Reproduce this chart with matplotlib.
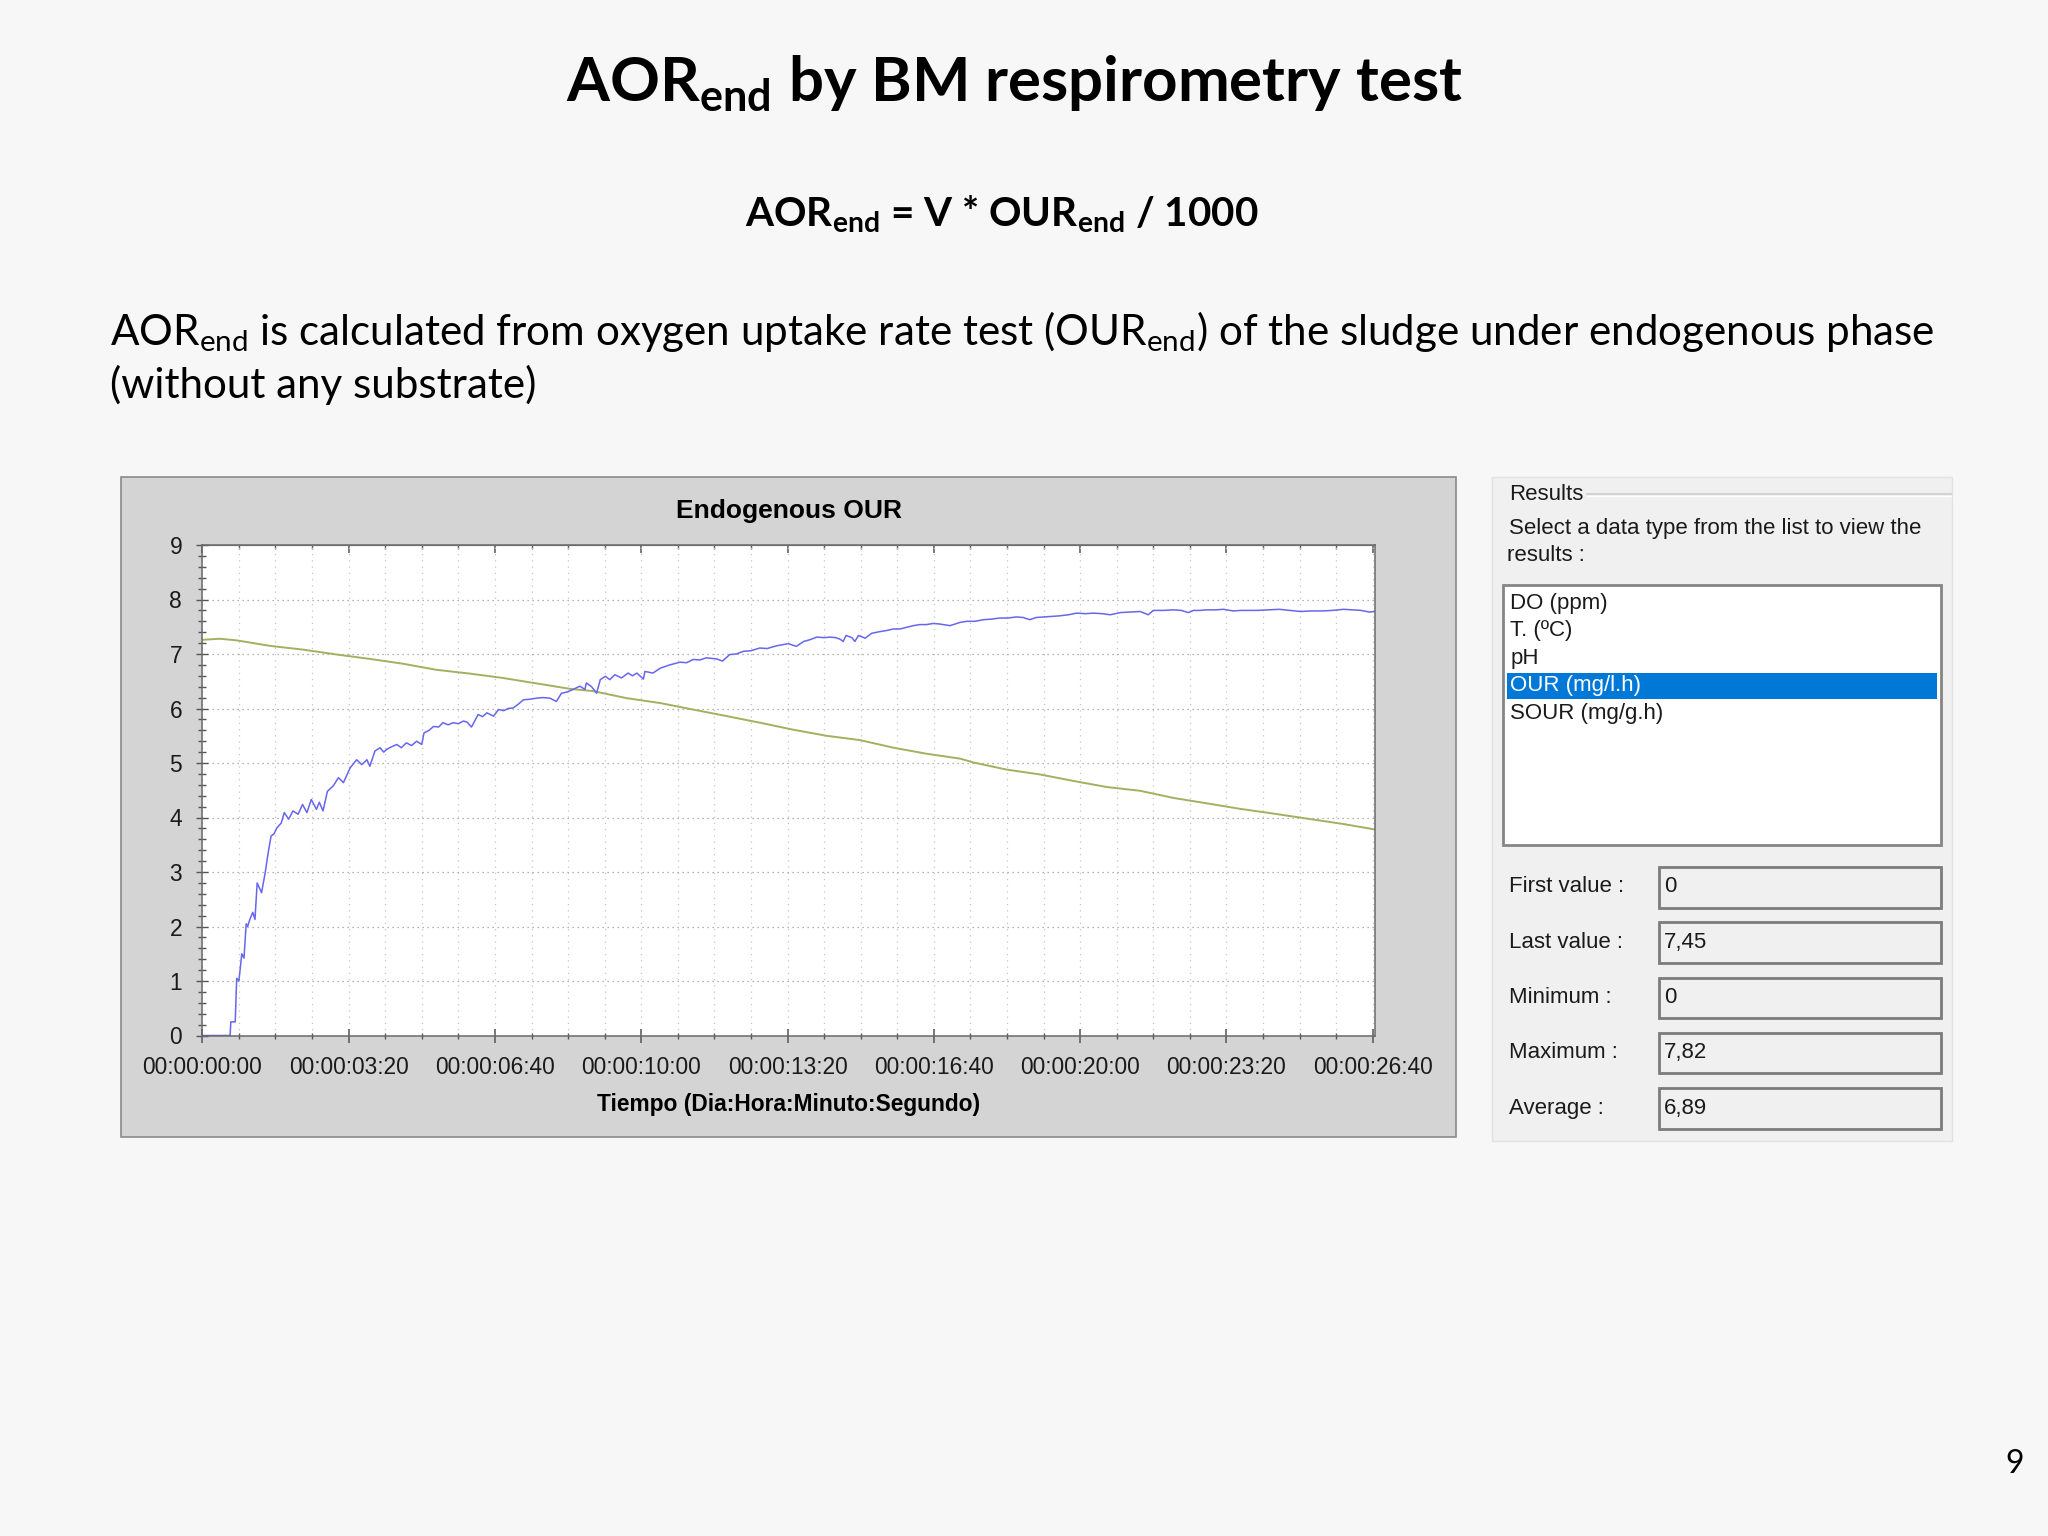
import matplotlib
matplotlib.use("Agg")
import matplotlib.pyplot as plt
from matplotlib.patches import Rectangle
from matplotlib.ticker import MultipleLocator

# OUR trace (blue), time in seconds
our_t = [0, 38, 39, 45, 47, 50, 54, 57, 60, 62, 65, 69, 72, 75, 81, 86, 90, 94, 98, 102,
         108, 112, 118, 124, 131, 137, 143, 149, 156, 160, 165, 171, 179, 186, 193, 202,
         211, 218, 225, 229, 236, 243, 248, 252, 259, 266, 272, 279, 286, 293, 300, 303,
         310, 316, 323, 329, 336, 343, 350, 357, 362, 368, 377, 383, 389, 398, 405, 412,
         418, 425, 432, 439, 448, 457, 466, 475, 484, 491, 498, 507, 516, 523, 525, 532,
         539, 544, 551, 557, 564, 573, 582, 588, 594, 603, 605, 616, 626, 639, 653, 662,
         671, 680, 689, 703, 711, 721, 730, 740, 750, 762, 772, 785, 801, 812, 822, 830,
         840, 850, 858, 866, 872, 876, 880, 888, 892, 897, 906, 915, 926, 935, 945, 954,
         963, 972, 981, 990, 999, 1008, 1022, 1036, 1045, 1056, 1068, 1079, 1090, 1101,
         1113, 1122, 1131, 1140, 1150, 1161, 1172, 1184, 1195, 1207, 1218, 1230, 1241,
         1255, 1268, 1282, 1293, 1300, 1314, 1327, 1338, 1348, 1355, 1364, 1373, 1385,
         1396, 1409, 1420, 1432, 1442, 1457, 1472, 1487, 1501, 1516, 1531, 1545, 1560,
         1572, 1584, 1595, 1603]
our_v = [0, 0, 0.25, 0.25, 1.05, 1.0, 1.5, 1.42, 2.05, 2.0, 2.13, 2.26, 2.13, 2.8, 2.62,
         2.99, 3.35, 3.66, 3.7, 3.81, 3.9, 4.09, 3.97, 4.12, 4.06, 4.24, 4.09, 4.33, 4.15,
         4.28, 4.12, 4.48, 4.58, 4.73, 4.64, 4.91, 5.06, 4.97, 5.06, 4.94, 5.22, 5.28, 5.2,
         5.25, 5.3, 5.34, 5.28, 5.37, 5.32, 5.40, 5.34, 5.55, 5.6, 5.67, 5.66, 5.74, 5.7,
         5.74, 5.72, 5.77, 5.75, 5.66, 5.89, 5.85, 5.92, 5.86, 5.98, 5.96, 6.0, 6.01, 6.08,
         6.16, 6.17, 6.19, 6.2, 6.19, 6.13, 6.28, 6.30, 6.35, 6.41, 6.35, 6.47, 6.4, 6.28,
         6.53, 6.59, 6.53, 6.62, 6.56, 6.65, 6.6, 6.65, 6.54, 6.68, 6.65, 6.74, 6.80, 6.85,
         6.84, 6.90, 6.89, 6.93, 6.91, 6.87, 6.99, 7.0, 7.05, 7.06, 7.11, 7.1, 7.15, 7.19,
         7.14, 7.23, 7.26, 7.31, 7.3, 7.31, 7.3, 7.27, 7.23, 7.34, 7.3, 7.23, 7.34, 7.29,
         7.38, 7.41, 7.43, 7.46, 7.46, 7.49, 7.52, 7.54, 7.54, 7.56, 7.55, 7.52, 7.58, 7.60,
         7.6, 7.63, 7.64, 7.66, 7.66, 7.68, 7.67, 7.63, 7.67, 7.68, 7.69, 7.70, 7.72, 7.75,
         7.74, 7.75, 7.74, 7.72, 7.76, 7.77, 7.78, 7.72, 7.80, 7.8, 7.81, 7.8, 7.76, 7.80,
         7.8, 7.81, 7.81, 7.82, 7.79, 7.8, 7.80, 7.8, 7.81, 7.82, 7.8, 7.78, 7.79, 7.79,
         7.8, 7.82, 7.81, 7.80, 7.77, 7.78]

# second trace (olive), slowly falling
do_t = [0, 24, 47, 92, 138, 184, 229, 275, 320, 366, 411, 457, 503, 534, 580, 626, 671,
        717, 762, 808, 853, 899, 945, 990, 1036, 1054, 1099, 1145, 1191, 1236, 1282, 1327,
        1373, 1418, 1460, 1510, 1560, 1603]
do_v = [7.26, 7.28, 7.25, 7.15, 7.08, 6.99, 6.91, 6.82, 6.71, 6.64, 6.56, 6.46, 6.36, 6.32,
        6.19, 6.10, 5.98, 5.86, 5.74, 5.61, 5.50, 5.42, 5.28, 5.17, 5.08, 5.01, 4.88, 4.79,
        4.67, 4.56, 4.49, 4.36, 4.26, 4.16, 4.08, 3.98, 3.88, 3.78]

x_ticks = [0, 200, 400, 600, 800, 1000, 1200, 1400, 1600]
x_labels = ["00:00:00:00", "00:00:03:20", "00:00:06:40", "00:00:10:00", "00:00:13:20",
            "00:00:16:40", "00:00:20:00", "00:00:23:20", "00:00:26:40"]
y_ticks = [0, 1, 2, 3, 4, 5, 6, 7, 8, 9]

list_items = ["DO (ppm)", "T. (ºC)", "pH", "OUR (mg/l.h)", "SOUR (mg/g.h)"]
selected = 3
stat_names = ["First value :", "Last value :", "Minimum :", "Maximum :", "Average :"]
stat_vals = ["0", "7,45", "0", "7,82", "6,89"]

plt.rcParams["mathtext.fontset"] = "custom"
plt.rcParams["mathtext.rm"] = "Lato"
plt.rcParams["mathtext.bf"] = "Lato:bold"

W, H = 2048, 1536
fig = plt.figure(figsize=(W / 100, H / 100), dpi=100, facecolor="#f7f7f7")

# pixel-space layer for the slide
bg = fig.add_axes([0, 0, 1, 1], zorder=0)
bg.set_xlim(0, W)
bg.set_ylim(H, 0)
bg.axis("off")

bg.text(1015, 102, "AOR$_{\\mathbf{end}}$ by BM respirometry test", ha="center",
        va="baseline", fontsize=44.5, fontweight="bold", family="Lato", color="black")
bg.text(1002, 226, "AOR$_{\\mathbf{end}}$ = V * OUR$_{\\mathbf{end}}$ / 1000", ha="center",
        va="baseline", fontsize=29.1, fontweight="bold", family="Lato", color="black")
bg.text(110, 345, "AOR$_{\\mathrm{end}}$ is calculated from oxygen uptake rate test "
        "(OUR$_{\\mathrm{end}}$) of the sludge under endogenous phase",
        ha="left", va="baseline", fontsize=30.3, family="Lato", color="black")
bg.text(110, 398, "(without any substrate)", ha="left", va="baseline", fontsize=30.3,
        family="Lato", color="black")
bg.text(2015, 1464, "9", ha="center", va="center", fontsize=23, family="Lato")

# chart window
bg.add_patch(Rectangle((121, 477), 1335, 660, facecolor="#d4d4d4", edgecolor="#8a8a8a", lw=1.2))
bg.text(788.5, 511, "Endogenous OUR", ha="center", va="center", fontsize=19,
        fontweight="bold", family="Liberation Sans")
bg.text(788.5, 1105, "Tiempo (Dia:Hora:Minuto:Segundo)", ha="center", va="center",
        fontsize=16.4, fontweight="bold", family="Liberation Sans")

# results panel
uf = dict(family="Liberation Sans", fontsize=16, color="#1a1a1a")
bg.add_patch(Rectangle((1492, 477), 460, 664, facecolor="#f0f0f0", edgecolor="#e2e2e2", lw=1))
bg.plot([1587, 1951], [494, 494], color="#cfcfcf", lw=1.3)
bg.plot([1587, 1951], [495.6, 495.6], color="white", lw=1)
bg.text(1509, 494, "Results", va="center", ha="left", **uf)
bg.text(1509, 528.5, "Select a data type from the list to view the", va="center", ha="left", **uf)
bg.text(1507, 555.5, "results :", va="center", ha="left", **uf)
bg.add_patch(Rectangle((1503, 585), 438, 260, facecolor="white", edgecolor="#858585", lw=2))
for i, item in enumerate(list_items):
    yc = 603 + i * 27.6
    col = "#1a1a1a"
    if i == selected:
        bg.add_patch(Rectangle((1507, yc - 13), 430, 26, facecolor="#0078d7", edgecolor="none"))
        col = "white"
    bg.text(1510.5, yc, item, va="center", ha="left", family="Liberation Sans",
            fontsize=16, color=col)
for i, (name, val) in enumerate(zip(stat_names, stat_vals)):
    yc = 887 + i * 55.3
    bg.text(1509, yc, name, va="center", ha="left", **uf)
    bg.add_patch(Rectangle((1659, yc - 20), 282, 40.5, facecolor="#f0f0f0",
                           edgecolor="#7c7c7c", lw=2))
    bg.text(1664, yc, val, va="center", ha="left", **uf)

# plot area
ax = fig.add_axes([202.3 / W, 1 - 1035.5 / H, (1375 - 202.3) / W, (1035.5 - 545) / H], zorder=2)
ax.set_facecolor("white")
ax.plot(do_t, do_v, color="#a3b060", lw=1.4)
ax.plot(our_t, our_v, color="#6666ee", lw=1.1)
ax.set_xlim(0, 1603)
ax.set_ylim(0, 9)
ax.set_xticks(x_ticks, x_labels)
ax.set_yticks(y_ticks)
ax.xaxis.set_minor_locator(MultipleLocator(50))
ax.yaxis.set_minor_locator(MultipleLocator(0.2))
ax.grid(axis="y", which="major", linestyle=(0, (1, 3)), color="#9a9a9a", lw=0.9)
ax.grid(axis="x", which="both", linestyle=(0, (1, 4)), color="#c4c4c4", lw=0.9)
for s in ax.spines.values():
    s.set_color("#6a6a6a")
    s.set_linewidth(1.1)
ax.tick_params(axis="y", which="major", direction="inout", length=8, width=1,
               color="#555555", labelsize=16.4, pad=10.5)
ax.tick_params(axis="y", which="minor", direction="inout", length=5.8, width=1, color="#555555")
ax.tick_params(axis="x", which="major", direction="inout", length=10, width=1.1,
               color="#555555", labelsize=16.4, pad=10)
ax.tick_params(axis="x", which="minor", direction="inout", length=5, width=1, color="#555555")
for lab in ax.get_xticklabels() + ax.get_yticklabels():
    lab.set_family("Liberation Sans")
    lab.set_color("#1a1a1a")

top = ax.secondary_xaxis("top")
top.set_xticks(x_ticks)
top.xaxis.set_minor_locator(MultipleLocator(50))
top.tick_params(axis="x", which="major", direction="in", length=5.8, width=1.1,
                color="#555555", labeltop=False)
top.tick_params(axis="x", which="minor", direction="in", length=2.9, width=1, color="#555555")
top.spines["top"].set_color("#6a6a6a")

fig.savefig("out.png", dpi=100, facecolor=fig.get_facecolor())
